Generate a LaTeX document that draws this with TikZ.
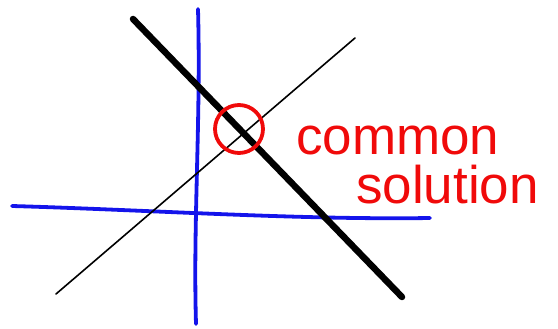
\documentclass[tikz,border=0pt]{standalone}
\usepackage{fontspec}
\setmainfont{Liberation Sans}
\definecolor{penblue}{RGB}{20,20,235}
\definecolor{penred}{RGB}{240,10,10}
\tikzset{
  blueline/.style={draw=penblue, line width=3.8pt, line cap=round},
  thinline/.style={draw=black, line width=1.6pt, line cap=round},
  thickline/.style={draw=black, line width=6.5pt, line cap=round},
  redring/.style={draw=penred, line width=3.8pt, circle, minimum width=48pt, minimum height=46pt, inner sep=0pt},
  redtext/.style={text=penred, font=\fontsize{53}{53}\selectfont, inner sep=0pt, anchor=base west}
}
\begin{document}
\begin{tikzpicture}[x=1pt,y=-1pt]
\useasboundingbox (0,0) rectangle (558,329);
% blue axes
\coordinate (vt) at (198,9);
\coordinate (vb) at (196,324);
\coordinate (hl) at (12,206);
\coordinate (hr) at (430,218);
\draw[blueline] (vt) .. controls (201,120) and (193,220) .. (vb);
\draw[blueline] (hl) .. controls (150,210) and (300,220) .. (hr);
% thin line
\coordinate (ta) at (56,294);
\coordinate (tb) at (355,38);
\draw[thinline] (ta) -- (tb);
% thick line
\coordinate (ka) at (133,19);
\coordinate (kb) at (402,297);
\draw[thickline] (ka) -- (kb);
% red circle
\node[redring] (ring) at (239,129) {};
% text
\node[redtext] (t1) at (296,155) {common};
\node[redtext] (t2) at (356,204) {solution};
\end{tikzpicture}
\end{document}
